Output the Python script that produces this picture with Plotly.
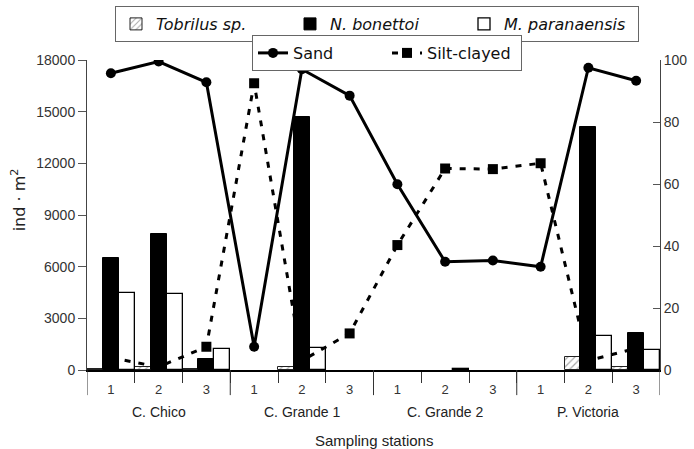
import plotly.graph_objects as go

# Sampling design: four localities, three stations each
groups = ["C. Chico", "C. Grande 1", "C. Grande 2", "P. Victoria"]
stations = ["1", "2", "3"]

# Nematode densities (ind·m^2)
tobrilus = [50, 200, 40, 0, 200, 0, 0, 0, 0, 0, 750, 150]
bonettoi = [6500, 7900, 650, 0, 14700, 0, 0, 0, 0, 0, 14100, 2150]
paranaensis = [4500, 4400, 1200, 0, 1300, 0, 0, 80, 0, 0, 1950, 1150]

# Sediment composition (%)
sand = [95.7, 99.5, 92.8, 7.5, 97.0, 88.5, 59.9, 34.9, 35.3, 33.3, 97.5, 93.3]
silt_clayed = [4, 1, 7.5, 92.5, 3, 11.8, 40.3, 65, 64.8, 66.7, 3, 7]

# Density ticks on the left axis
density_ticks = list(range(0, 18001, 3000))

n_st = len(stations)
pos = list(range(len(groups) * n_st))
sub_labels = stations * len(groups)


def present(values):
    """Absent taxa get no bar at all (not even a flat outline)."""
    return [v if v > 0 else None for v in values]


TICK_FONT = dict(family="Liberation Sans, Arial, sans-serif", size=14, color="#333")
LEG_FONT = dict(family="DejaVu Sans, sans-serif", size=16, color="#111")

fig = go.Figure()

# Sediment lines on the base (right) axis so the bars sit above them
fig.add_trace(go.Scatter(
    x=pos, y=sand, name="Sand", xaxis="x", yaxis="y", mode="lines+markers",
    line=dict(color="black", width=3), marker=dict(symbol="circle", size=10, color="black"),
    legend="legend2",
))
fig.add_trace(go.Scatter(
    x=pos, y=silt_clayed, name="Silt-clayed", xaxis="x", yaxis="y", mode="lines+markers",
    line=dict(color="black", width=3, dash="6px,8px"),
    marker=dict(symbol="square", size=10, color="black"),
    legend="legend2",
))

# Density bars on the overlaid left axis
fig.add_trace(go.Bar(
    x=pos, y=present(tobrilus), name="<i>Tobrilus sp.</i>", xaxis="x", yaxis="y2",
    marker=dict(color="rgba(0,0,0,0)", line=dict(color="#222", width=1),
                pattern=dict(shape="/", fgcolor="#555", size=5, solidity=0.25)),
    legend="legend",
))
fig.add_trace(go.Bar(
    x=pos, y=present(bonettoi), name="<i>N. bonettoi</i>", xaxis="x", yaxis="y2",
    marker=dict(color="black", line=dict(color="black", width=1)),
    legend="legend",
))
fig.add_trace(go.Bar(
    x=pos, y=present(paranaensis), name="<i>M. paranaensis</i>", xaxis="x", yaxis="y2",
    marker=dict(color="rgba(0,0,0,0)", line=dict(color="black", width=1.3)),
    legend="legend",
))

# Long separators between localities
bounds = [g * n_st - 0.5 for g in range(len(groups) + 1)]
shapes = [
    dict(type="line", xref="x", yref="paper", x0=b, x1=b, y0=0, y1=-0.081,
         line=dict(color="#333", width=1))
    for b in bounds
]

annotations = [
    dict(text=g, xref="x", yref="paper", x=i * n_st + (n_st - 1) / 2, y=-0.135,
         showarrow=False, yanchor="middle",
         font=dict(family="Liberation Sans, Arial, sans-serif", size=14, color="#222"))
    for i, g in enumerate(groups)
]
annotations.append(dict(
    text="Sampling stations", xref="paper", yref="paper", x=0.5, y=-0.226,
    showarrow=False, yanchor="middle",
    font=dict(family="Liberation Sans, Arial, sans-serif", size=15, color="#222"),
))
annotations.append(dict(
    text="ind · m<sup>2</sup>", xref="paper", yref="paper", x=-0.120, y=0.548,
    textangle=-90, showarrow=False, xanchor="center", yanchor="middle",
    font=dict(family="DejaVu Sans, sans-serif", size=16, color="#222"),
))

fig.update_layout(
    width=694, height=449,
    margin=dict(l=87, r=34, t=60, b=79, autoexpand=False),
    paper_bgcolor="white", plot_bgcolor="white",
    barmode="group", bargap=0, bargroupgap=0,
    xaxis=dict(
        range=[-0.5, len(pos) - 0.5], showgrid=False, zeroline=False,
        showline=True, linecolor="black", linewidth=2,
        tickmode="array", tickvals=pos, ticktext=sub_labels, ticks="",
        ticklabelstandoff=6,
        tickfont=dict(family="Liberation Sans, Arial, sans-serif", size=13, color="#333"),
        minor=dict(tickmode="array", tickvals=[p + 0.5 for p in pos[:-1]],
                   ticks="outside", ticklen=11, tickcolor="#333", tickwidth=1),
    ),
    yaxis=dict(
        side="right", range=[0, 100], tickmode="array", tickvals=[0, 20, 40, 60, 80, 100],
        ticks="inside", ticklen=7, tickcolor="#555", showgrid=False, zeroline=False,
        showline=True, linecolor="#444", linewidth=1, tickfont=TICK_FONT,
    ),
    yaxis2=dict(
        overlaying="y", side="left", range=[0, 18000],
        tickmode="array", tickvals=density_ticks, ticktext=[str(t) for t in density_ticks],
        ticks="outside", ticklen=8, tickcolor="#555", showgrid=False, zeroline=False,
        showline=True, linecolor="#444", linewidth=1, tickfont=TICK_FONT,
    ),
    legend=dict(
        orientation="h", xref="container", yref="container",
        x=115 / 694, y=1 - 6 / 449, xanchor="left", yanchor="top",
        bordercolor="#666", borderwidth=1, bgcolor="white",
        entrywidth=129, entrywidthmode="pixels", font=LEG_FONT, traceorder="normal",
    ),
    legend2=dict(
        orientation="h", xref="container", yref="container",
        x=252 / 694, y=1 - 35 / 449, xanchor="left", yanchor="top",
        bordercolor="#666", borderwidth=1, bgcolor="white",
        entrywidth=89, entrywidthmode="pixels", font=LEG_FONT, traceorder="normal",
    ),
    shapes=shapes,
    annotations=annotations,
)

fig.write_html("out.html")
